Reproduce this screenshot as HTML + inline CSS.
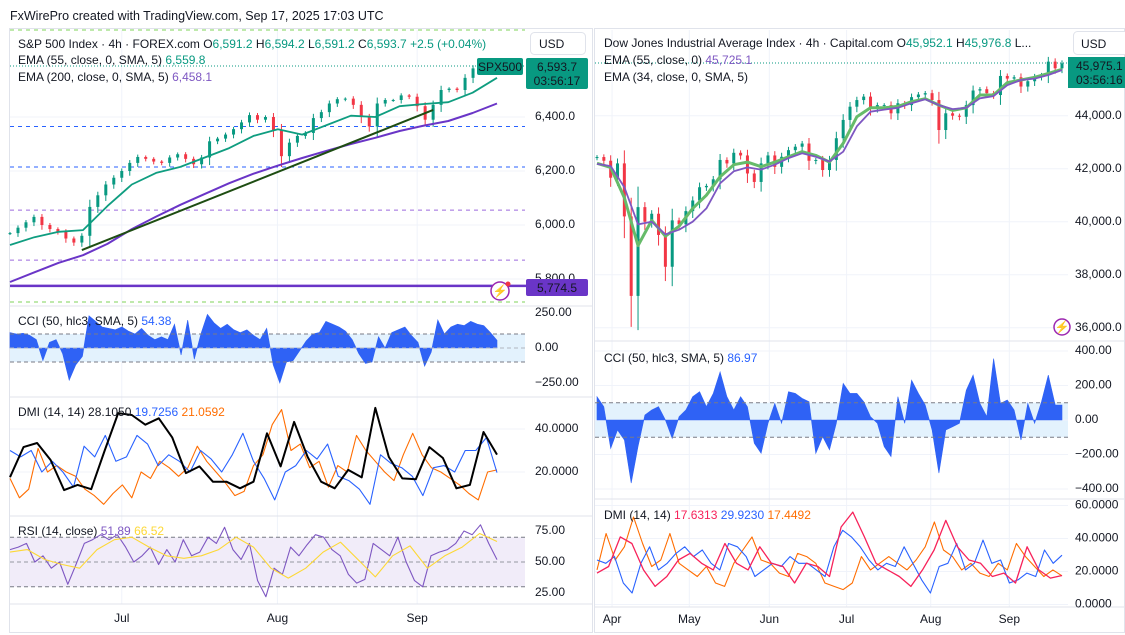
<!DOCTYPE html>
<html><head><meta charset="utf-8"><style>
html,body{margin:0;padding:0;background:#fff;}
svg{display:block;font-family:"Liberation Sans",sans-serif;}
text{font-size:12px;fill:#131722;}
</style></head><body>
<svg id="c" width="1125" height="635" viewBox="0 0 1125 635">
<rect x="0" y="0" width="1125" height="635" fill="#fff"/>
<text x="10" y="20" style="font-size:12.5px">FxWirePro created with TradingView.com, Sep 17, 2025 17:03 UTC</text>
<rect x="9.5" y="28.5" width="583" height="604" fill="none" stroke="#e0e3eb"/>
<rect x="594.5" y="28.5" width="530" height="604" fill="none" stroke="#e0e3eb"/>
<g id="g"></g>
</svg>
<script>
// ---------- LEFT (S&P 500) DATA ----------
const spxClose=[5970,5990,6010,6030,6000,5985,5975,5950,5935,5960,6067,6110,6150,6175,6200,6230,6252,6245,6235,6230,6250,6262,6245,6225,6250,6310,6320,6335,6355,6380,6407,6390,6400,6350,6255,6305,6330,6341,6396,6418,6450,6466,6468,6445,6400,6365,6450,6463,6463,6480,6475,6440,6390,6445,6500,6505,6500,6545,6580,6593,6595,6593];
const spxEma55=[5926,5955,5975,5981,6070,6150,6193,6215,6250,6285,6330,6355,6335,6370,6405,6400,6440,6448,6455,6490,6545];
const spxEma200=[5789,5825,5860,5888,5930,5985,6031,6075,6115,6155,6190,6220,6248,6275,6300,6323,6348,6368,6385,6415,6450];
const spxTrendIdx=[9,53];
const spxTrendVal=[5907,6426];
const spxPriceTicks=[6400,6200,6000,5800];
const spxLevelsBlue=[6365,6215];
const spxLevelsPurple=[6055,5870];
const spxSupport=5774.5;
const leftCci=[110,100,105,90,60,-90,40,60,-40,-230,-120,-60,230,190,150,140,130,150,120,100,140,90,60,80,60,170,-50,200,-80,100,240,180,140,170,130,110,130,90,60,140,-120,-250,-100,-90,-20,50,100,110,190,170,150,120,60,-40,-110,-100,80,0,110,130,150,90,40,-130,-30,200,100,150,170,160,190,170,160,110,54];
const leftCciTicks=[250,0,-250];
const leftAdx=[17.6,31.6,33.5,25.6,11.6,14,12,30,47.4,46.5,42,45,36,19.5,22.6,15.5,15.5,12.4,15.5,38,22.6,43.3,27,15.5,12.4,21,17.5,49.8,27,17,16.6,31.6,26.5,12.4,14,38.6,28.1];
const leftPdi=[30,27,30,20,25,20,13,32,27,37,25,27,37,33,23,28,25,20,30,26,20,28,38,25,17,7,20,23,30,26,33,18,16,12,5,28,24,22,18,9,22,23,20,30,30,36,19.7];
const leftMdi=[17,8,12,31,20,23,20,18,12,9,5,10,14,8,20,17,25,22,18,22,32,25,20,15,9,11,23,28,42,49,30,33,22,25,13,23,20,37,30,25,20,16,28,38,28,22,20,17,14,10,7,20,21];
const leftDmiTicks=[40,20];
const leftRsi=[60,62,65,50,55,45,50,32,48,65,68,72,68,72,62,50,55,62,48,60,50,68,55,58,70,65,78,60,52,65,35,22,45,40,62,55,64,72,70,60,55,40,33,36,65,60,55,70,50,35,30,55,58,60,65,75,72,80,65,51.9];
const leftRsiMa=[58,60,52,48,45,60,68,70,62,55,53,55,60,70,62,45,37,45,58,66,52,38,55,63,45,55,62,73,66.5];
const leftRsiTicks=[75,50,25];
// ---------- RIGHT (Dow Jones) DATA ----------
const djiClose=[42440,42300,41660,42200,40200,37200,40550,40000,40300,39500,38300,40050,39900,40400,40800,41300,41350,41600,42330,42200,42600,42500,41820,41500,42200,42500,42070,42450,42700,42830,42950,42300,42330,41950,42330,43150,43840,44340,44590,44720,44280,44400,44400,44090,44470,44400,44700,44800,44850,44590,43460,44090,44000,43960,44400,44950,45000,44850,44780,45500,45400,45450,45100,45300,45470,45530,46040,45790,45975];
const djiEmaGreen=[42205,42050,40900,39100,40050,39453,39830,40500,41000,41700,42150,42250,42077,42250,42450,42643,42500,42250,42960,43962,44300,44300,44350,44528,44640,44400,44200,44300,44780,44780,45250,45346,45450,45598,45750];
const djiEmaPurple=[42180,42100,41300,39900,40000,39520,39700,40000,40500,41450,41900,42050,41965,42150,42400,42580,42450,42270,42643,43600,44150,44230,44300,44470,44620,44400,44250,44300,44655,44740,45150,45346,45400,45535,45725];
const djiPriceTicks=[44000,42000,40000,38000,36000];
const rightCci=[135,77,-164,-58,-116,-366,-154,29,58,77,0,-106,19,58,135,164,77,154,279,135,58,135,77,-135,-193,-19,96,-19,164,154,125,106,-193,-96,-173,-19,212,154,154,106,19,-19,-154,-212,135,-19,231,154,87,-58,-308,-58,-39,-19,173,260,96,19,356,96,116,58,-116,96,-19,106,260,87,87];
const rightCciTicks=[400,200,0,-200,-400];
const rightAdx=[19,23,41,37,21,11,17,27,31,25,21,37,25,21,35,25,23,13,25,23,17,47,56,41,25,21,17,11,21,33,51,35,27,25,17,19,13,35,21,16,17.6];
const rightPdi=[27,25,29,13,7,25,35,21,25,31,35,29,33,25,21,37,35,29,17,21,25,23,29,25,25,21,17,35,45,41,35,27,21,25,23,35,25,15,7,23,25,37,21,25,39,25,27,13,15,19,17,33,25,29.9];
const rightMdi=[21,43,27,35,53,37,23,27,43,25,21,17,23,13,11,25,33,41,27,25,19,17,31,29,25,13,11,9,13,29,21,25,29,25,21,27,35,50,33,29,21,25,19,17,25,21,37,29,23,17,21,17.4];
const rightDmiTicks=[60,40,20,0];
const leftMonths=["Jul","Aug","Sep"];
const leftMonthIdx=[14,33.5,51];
const rightMonths=["Apr","May","Jun","Jul","Aug","Sep"];
const rightMonthIdx=[2.2,13.5,25.2,36.5,48.8,60.3];

const NS="http://www.w3.org/2000/svg";
const G=document.getElementById('g');
function mk(tag,attrs){const e=document.createElementNS(NS,tag);for(const k in attrs)e.setAttribute(k,attrs[k]);G.appendChild(e);return e;}
function txt(x,y,s,fill,anchor,size){const e=mk('text',{x:x,y:y,fill:fill||'#131722','text-anchor':anchor||'start','dominant-baseline':'middle'});if(size)e.style.fontSize=size+'px';e.textContent=s;return e;}
function fmt(v,d){const s=Math.abs(v).toFixed(d).replace(/\B(?=(\d{3})+(?!\d))/g,',');return (v<0?'\u2212':'')+s;}

const LX0=10,LX1=497,RX0=597,RX1=1062;
function lx(i,n){return LX0+i*(LX1-LX0)/(n-1);}
function rx(i,n){return RX0+i*(RX1-RX0)/(n-1);}
function ySpx(p){return 117-(p-6400)*54/200;}
function yLCci(v){return 348-v*35/250;}
function yLDmi(v){return 515-v*43/20;}
function yLRsi(v){return 531+(75-v)*31/25;}
function yDji(p){return 115.7-(p-44000)*53/2000;}
function yRCci(v){return 420-v*34.5/200;}
function yRDmi(v){return 604.5-v*33/20;}

function poly(arr,xf,yf,color,w,name){
  const n=arr.length;let d='';
  arr.forEach((v,i)=>{d+=(i?'L':'M')+xf(i,n).toFixed(1)+' '+yf(v).toFixed(1);});
  const p=mk('path',{d:d,fill:'none',stroke:color,'stroke-width':w,'stroke-linejoin':'round'});
  
  
  return p;
}
function hline(x0,x1,y,color,dash,name,w){
  const l=mk('line',{x1:x0,x2:x1,y1:y,y2:y,stroke:color,'stroke-width':w||1,'stroke-dasharray':dash||''});
  
  
  return l;
}
function vline(x,y0,y1,color,name){
  const l=mk('line',{x1:x,x2:x,y1:y0,y2:y1,stroke:color,'stroke-width':1});
  
  
}
function candles(arr,xf,yf,wk,name){
  const n=arr.length;
  arr.forEach((c,i)=>{
    const o=i?arr[i-1]:c;const up=c>=o;const col=up?'#089981':'#f23645';
    const x=xf(i,n);const ext=Math.abs(c-o)*0.35+wk;
    const w=mk('line',{x1:x,x2:x,y1:yf(Math.max(o,c)+ext*0.6),y2:yf(Math.min(o,c)-ext),stroke:col,'stroke-width':1});
    
    
    const t=Math.min(yf(o),yf(c));const h=Math.max(1,Math.abs(yf(o)-yf(c)));
    const r=mk('rect',{x:x-1.5,y:t,width:3,height:h,fill:col});
    
    
  });
}
function area(arr,xf,yf,name){
  const n=arr.length;let d='M'+xf(0,n)+' '+yf(0);
  arr.forEach((v,i)=>{d+='L'+xf(i,n).toFixed(1)+' '+yf(v).toFixed(1);});
  d+='L'+xf(n-1,n)+' '+yf(0)+'Z';
  const p=mk('path',{d:d,fill:'#2f62f5',stroke:'#2f62f5','stroke-width':0.6});
  
  
}

leftMonthIdx.forEach((m,k)=>{vline(lx(m,spxClose.length),30,604,'#f0f3fa','left-month-grid');});
[306,397,516,604].forEach(y=>{hline(10,592,y,'#e0e3eb','','left-pane-separator');});
spxPriceTicks.forEach(p=>{hline(10,525,ySpx(p),'#f0f3fa','','left-price-grid');});
hline(10,525,30,'#7fd35a','4 4','left-top-green-level');
hline(10,525,302,'#7fd35a','4 4','left-bottom-green-level');
spxLevelsBlue.forEach(p=>{hline(10,525,ySpx(p),'#2962ff','4 4','left-blue-level');});
spxLevelsPurple.forEach(p=>{hline(10,525,ySpx(p),'#9c6ade','4 4','left-purple-level');});
hline(10,525,66,'#089981','1 2','left-last-price-line');
hline(10,527,ySpx(spxSupport),'#6a35c7','','left-support-line',2.5);
candles(spxClose,lx,ySpx,7,'spx');
poly(spxEma200,lx,ySpx,'#6a35c7',2,'spx-ema200-line');
poly(spxEma55,lx,ySpx,'#0f9d80',1.8,'spx-ema55-line');
{const n=spxClose.length;const t=mk('line',{x1:lx(spxTrendIdx[0],n),y1:ySpx(spxTrendVal[0]),x2:lx(spxTrendIdx[1],n),y2:ySpx(spxTrendVal[1]),stroke:'#1e4d12','stroke-width':2});

}

mk('rect',{x:10,y:yLCci(100),width:515,height:yLCci(-100)-yLCci(100),fill:'#e3f2fd'});
area(leftCci,lx,yLCci,'left-cci-area');
hline(10,525,yLCci(100),'#787b86','4 3','left-cci-upper');
hline(10,525,yLCci(-100),'#787b86','4 3','left-cci-lower');
hline(10,525,yLCci(0),'#b2b5be','4 3','left-cci-zero');
leftDmiTicks.forEach(v=>{hline(10,525,yLDmi(v),'#f0f3fa','','left-dmi-grid');});
poly(leftMdi,lx,yLDmi,'#ff6d00',1.1,'left-dmi-minus-line');
poly(leftPdi,lx,yLDmi,'#2962ff',1.1,'left-dmi-plus-line');
poly(leftAdx,lx,yLDmi,'#000000',2,'left-adx-line');
mk('rect',{x:10,y:yLRsi(70),width:515,height:yLRsi(30)-yLRsi(70),fill:'#f1ecf9'});
hline(10,525,yLRsi(70),'#787b86','4 3','left-rsi-upper');
hline(10,525,yLRsi(50),'#9598a1','4 3','left-rsi-mid');
hline(10,525,yLRsi(30),'#787b86','4 3','left-rsi-lower');
poly(leftRsi,lx,yLRsi,'#7e57c2',1.1,'left-rsi-line');
poly(leftRsiMa,lx,yLRsi,'#fdd835',1.1,'left-rsi-ma-line');

rightMonthIdx.forEach(m=>{vline(rx(m,djiClose.length),30,607,'#f0f3fa','right-month-grid');});
[341,499,607].forEach(y=>{hline(595,1124,y,'#e0e3eb','','right-pane-separator');});
djiPriceTicks.forEach(p=>{hline(595,1068,yDji(p),'#f0f3fa','','right-price-grid');});
hline(595,1068,63,'#089981','1 2','right-last-price-line');
candles(djiClose,rx,yDji,120,'dji');
poly(djiEmaGreen,rx,yDji,'#66bb6a',3,'dji-ema-green-line');
poly(djiEmaPurple,rx,yDji,'#7e57c2',1.8,'dji-ema-purple-line');
mk('rect',{x:595,y:yRCci(100),width:473,height:yRCci(-100)-yRCci(100),fill:'#e3f2fd'});
rightCciTicks.forEach(v=>{hline(595,1068,yRCci(v),'#f0f3fa','','right-cci-grid');});
area(rightCci,rx,yRCci,'right-cci-area');
hline(595,1068,yRCci(100),'#787b86','4 3','right-cci-upper');
hline(595,1068,yRCci(-100),'#787b86','4 3','right-cci-lower');
rightDmiTicks.forEach(v=>{hline(595,1068,yRDmi(v),'#f0f3fa','','right-dmi-grid');});
poly(rightMdi,rx,yRDmi,'#ff6d00',1.1,'right-dmi-minus-line');
poly(rightPdi,rx,yRDmi,'#2962ff',1.1,'right-dmi-plus-line');
poly(rightAdx,rx,yRDmi,'#f7225a',1.3,'right-adx-line');

spxPriceTicks.forEach(p=>{const t=txt(535,ySpx(p),fmt(p,1));});
leftCciTicks.forEach(v=>{const t=txt(535,yLCci(v),fmt(v,2));});
leftDmiTicks.forEach(v=>{const t=txt(535,yLDmi(v),v.toFixed(4));});
leftRsiTicks.forEach(v=>{const t=txt(535,yLRsi(v),v.toFixed(2));});
leftMonths.forEach((m,k)=>{const t=txt(lx(leftMonthIdx[k],spxClose.length),619,m,'#131722','middle');});
djiPriceTicks.forEach(p=>{const t=txt(1075,yDji(p),fmt(p,1));});
rightCciTicks.forEach(v=>{const t=txt(1075,yRCci(v),fmt(v,2));});
rightDmiTicks.forEach(v=>{const t=txt(1075,yRDmi(v),v.toFixed(4));});
rightMonths.forEach((m,k)=>{const t=txt(rx(rightMonthIdx[k],djiClose.length),620,m,'#131722','middle');});
</script>
<svg style="position:absolute;left:0;top:0" width="1125" height="635" font-family="Liberation Sans, sans-serif" font-size="12">
<text x="18" y="48">S&amp;P 500 Index · 4h · FOREX.com  O<tspan fill="#089981">6,591.2</tspan> H<tspan fill="#089981">6,594.2</tspan> L<tspan fill="#089981">6,591.2</tspan> C<tspan fill="#089981">6,593.7</tspan> <tspan fill="#089981">+2.5 (+0.04%)</tspan></text>
<text x="18" y="64">EMA (55, close, 0, SMA, 5) <tspan fill="#089981">6,559.8</tspan></text>
<text x="18" y="81">EMA (200, close, 0, SMA, 5) <tspan fill="#7e57c2">6,458.1</tspan></text>
<text x="18" y="325">CCI (50, hlc3, SMA, 5) <tspan fill="#2962ff">54.38</tspan></text>
<text x="18" y="416">DMI (14, 14)  28.1050  <tspan fill="#2962ff">19.7256</tspan>  <tspan fill="#ff6d00">21.0592</tspan></text>
<text x="18" y="535">RSI (14, close) <tspan fill="#7e57c2">51.89</tspan> <tspan fill="#fdd835">66.52</tspan></text>
<rect x="530.5" y="32.5" width="55" height="22" rx="4" fill="#fff" stroke="#e0e3eb"/>
<text x="539" y="48">USD</text>
<rect x="477" y="58" width="46" height="17" rx="2" fill="#089981"/>
<text x="500" y="71" fill="#fff" text-anchor="middle">SPX500</text>
<rect x="526" y="58" width="62" height="31" rx="2" fill="#089981"/>
<text x="557" y="71" fill="#fff" text-anchor="middle">6,593.7</text>
<text x="557" y="85" fill="#e6f6f2" text-anchor="middle">03:56:17</text>
<rect x="526" y="279" width="62" height="17" rx="2" fill="#6a35c7"/>
<text x="557" y="292" fill="#fff" text-anchor="middle">5,774.5</text>
<circle cx="500" cy="291" r="9" fill="#fff" stroke="#9c27b0" stroke-width="1.5"/>
<text x="500" y="295" fill="#9c27b0" text-anchor="middle" font-size="11">⚡</text>
<circle cx="508" cy="284" r="2.5" fill="#f23645"/>
<text x="604" y="47">Dow Jones Industrial Average Index · 4h · Capital.com  O<tspan fill="#089981">45,952.1</tspan>  H<tspan fill="#089981">45,976.8</tspan>  L...</text>
<text x="604" y="64">EMA (55, close, 0)  <tspan fill="#7e57c2">45,725.1</tspan></text>
<text x="604" y="81">EMA (34, close, 0, SMA, 5)</text>
<text x="604" y="362">CCI (50, hlc3, SMA, 5)  <tspan fill="#2962ff">86.97</tspan></text>
<text x="604" y="519">DMI (14, 14)  <tspan fill="#f7225a">17.6313</tspan>  <tspan fill="#2962ff">29.9230</tspan>  <tspan fill="#ff6d00">17.4492</tspan></text>
<rect x="1073.5" y="31.5" width="55" height="23" rx="4" fill="#fff" stroke="#e0e3eb"/>
<text x="1081" y="48">USD</text>
<rect x="1068" y="57" width="57" height="31" fill="#089981"/>
<text x="1076" y="70" fill="#fff">45,975.1</text>
<text x="1076" y="84" fill="#e6f6f2">03:56:16</text>
<circle cx="1062" cy="327" r="8" fill="#fff" stroke="#9c27b0" stroke-width="1.5"/>
<text x="1062" y="331" fill="#9c27b0" text-anchor="middle" font-size="10">⚡</text>
</svg>
</body></html>
